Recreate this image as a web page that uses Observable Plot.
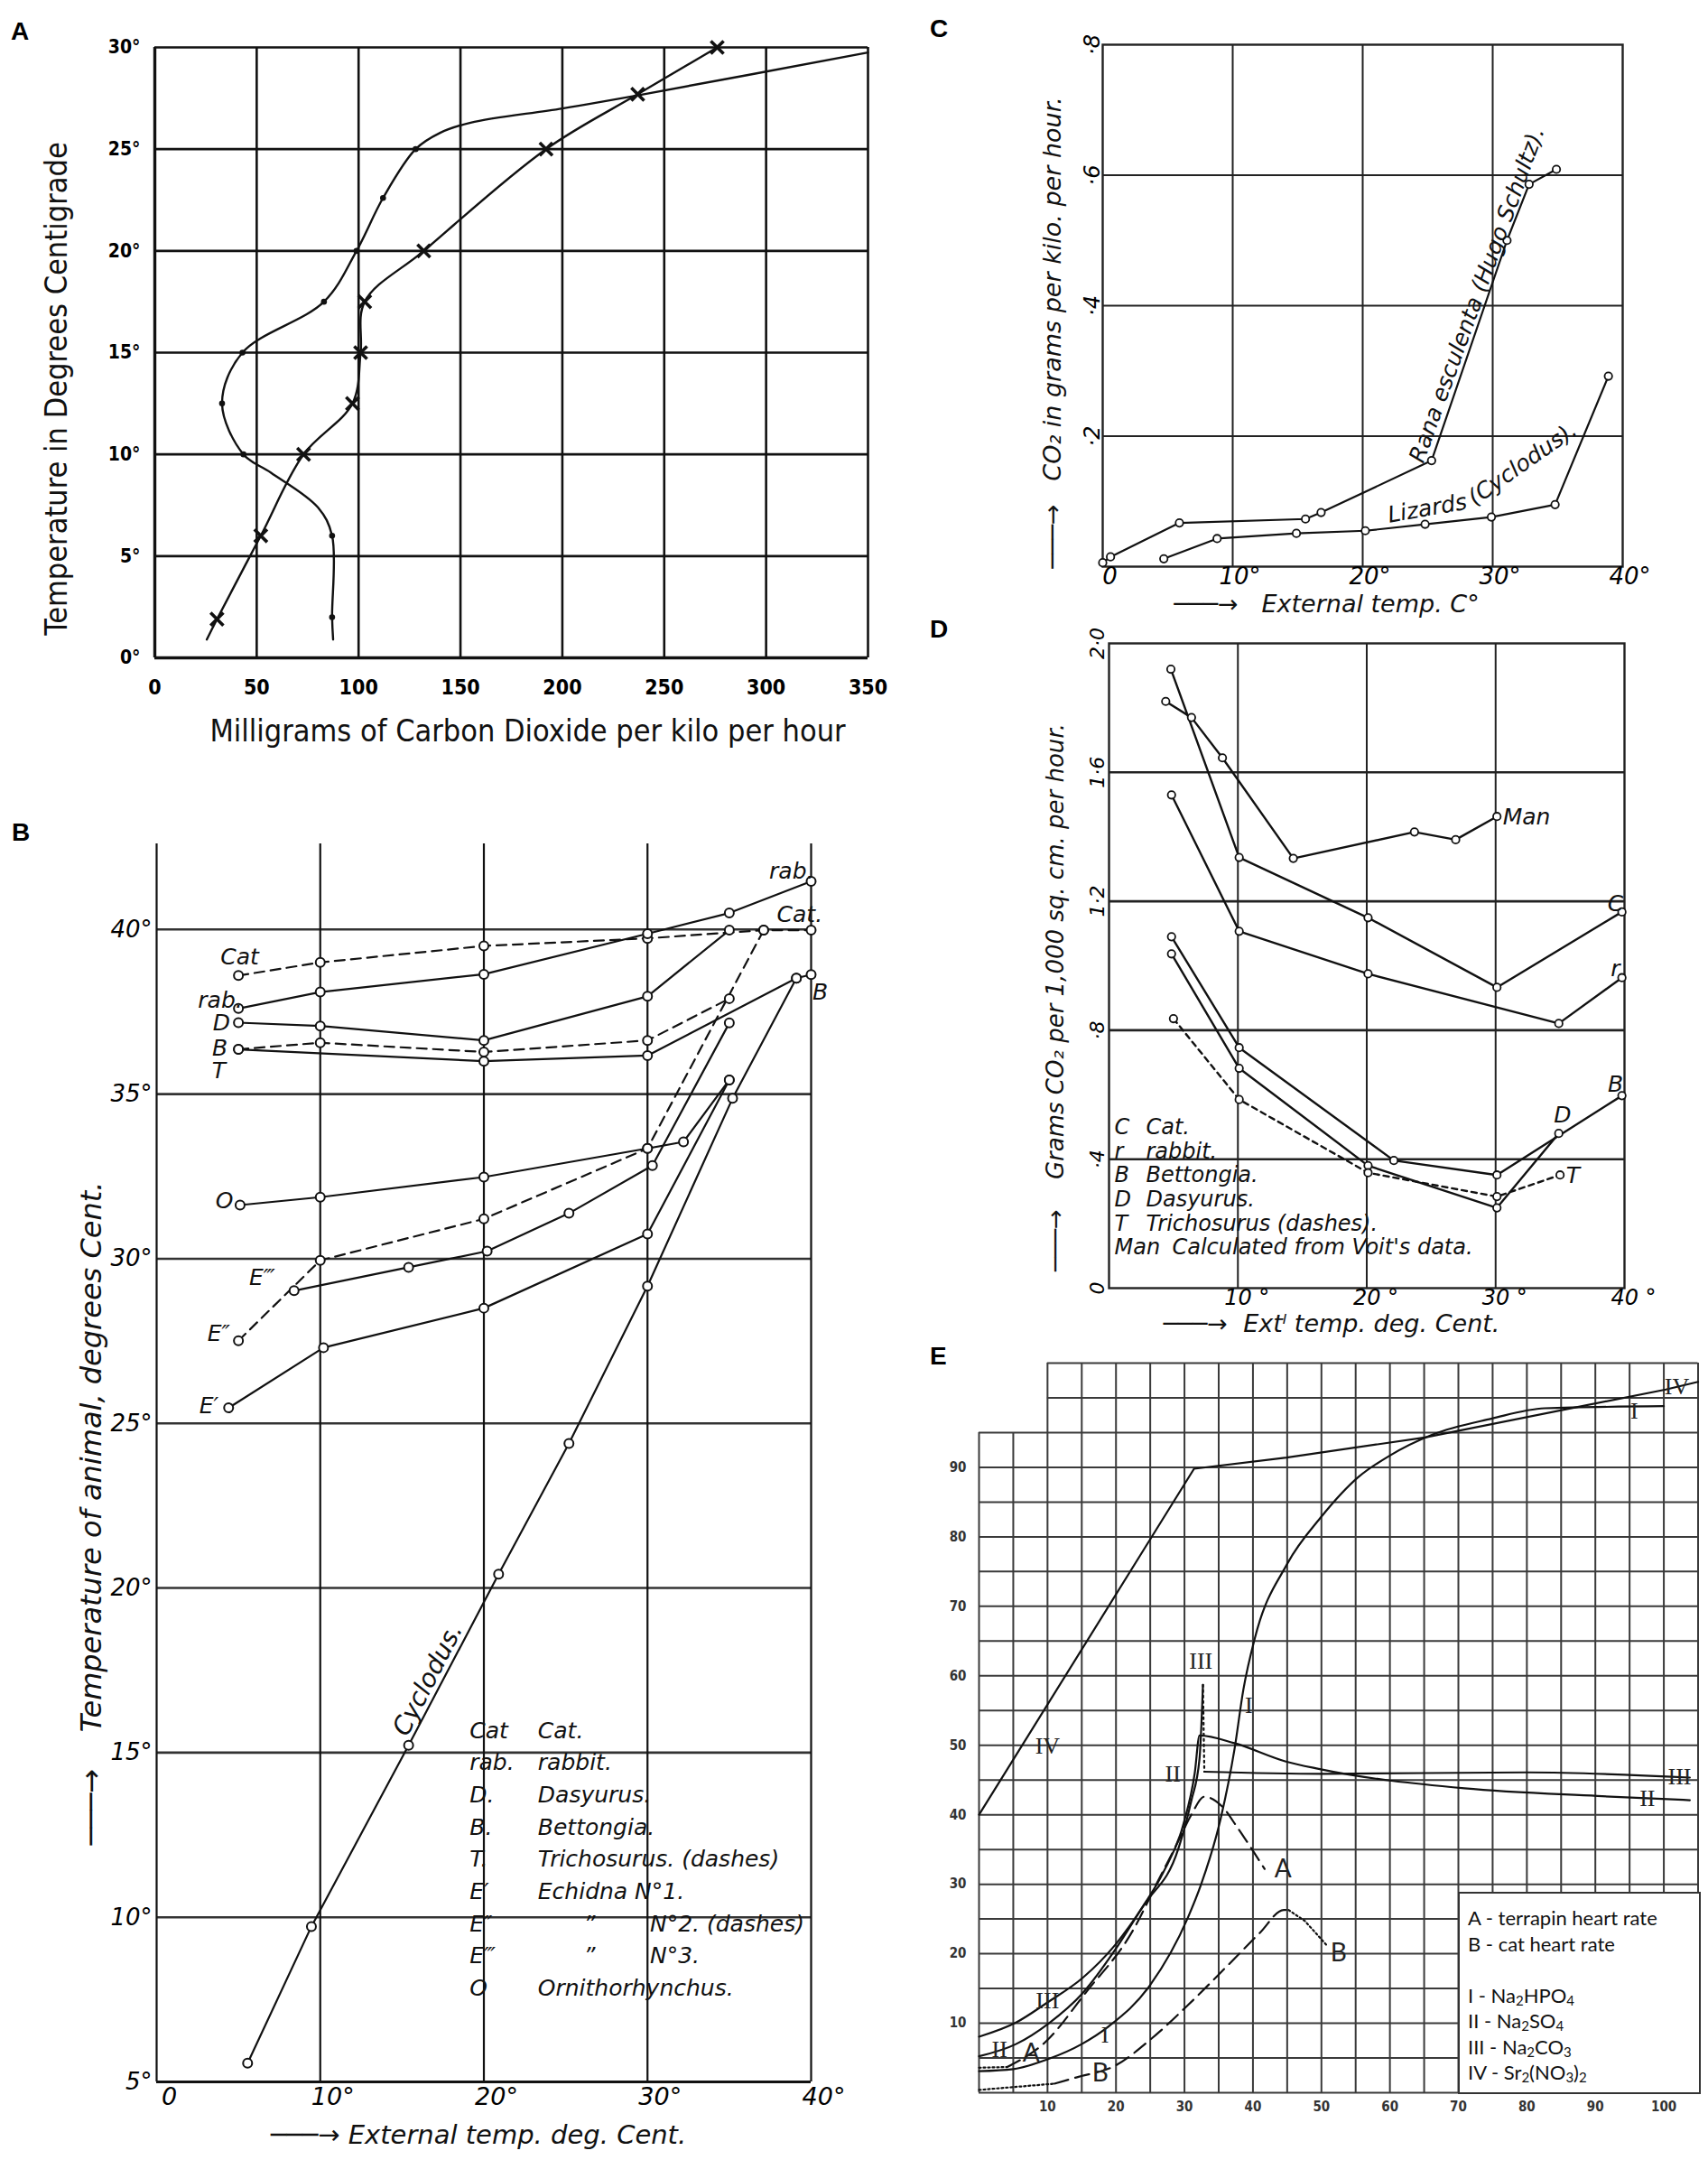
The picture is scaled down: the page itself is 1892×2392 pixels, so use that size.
<!DOCTYPE html>
<html><head><meta charset="utf-8">
<script src="https://cdn.jsdelivr.net/npm/d3@7"></script>
<script src="https://cdn.jsdelivr.net/npm/@observablehq/plot@0.6"></script>
<style>
html,body{margin:0;padding:0;background:#fff;}
#root{position:relative;width:1892px;height:2392px;overflow:hidden;background:#fff;}
.panel{position:absolute;}
.panel svg{display:block;}
.letter{position:absolute;font-family:"Liberation Sans",Arial,sans-serif;font-weight:bold;font-size:28px;line-height:1;color:#000;}
#legendE{position:absolute;background:#fff;border:2px solid #333;box-sizing:border-box;font-family:Lato,"Open Sans",sans-serif;font-size:22px;line-height:28.5px;padding:13px 0 0 9px;color:#111;}
#legendE sub{font-size:15px;vertical-align:-3px;line-height:0;}
</style></head><body><div id="root"></div>
<script>
// ---------------- DATA ----------------
// Panel A
const A_xTicks = [0, 50, 100, 150, 200, 250, 300, 350];
const A_yTicks = [0, 5, 10, 15, 20, 25, 30];
const A_mgDots = [87, 87, 43.5, 33, 43, 83, 99, 112, 128];
const A_tempDots = [2, 6, 10, 12.5, 15, 17.5, 20, 22.6, 25];
const A_mgDotsCurve = [87.5, 87, 87, 80, 57, 43.5, 33, 43, 83, 99, 112, 128, 140, 155, 200, 240, 350];
const A_tempDotsCurve = [0.9, 2, 6, 7.4, 9.1, 10, 12.5, 15, 17.5, 20, 22.6, 25, 25.8, 26.3, 27.0, 27.7, 29.75];
const A_mgCross = [30.5, 52, 73, 97, 101, 103, 132, 192, 237, 276];
const A_tempCross = [1.9, 6, 10, 12.5, 15, 17.5, 20, 25, 27.7, 30];
const A_mgCrossCurve = [25.5, 30.5, 52, 73, 97, 101, 103, 132, 192, 237, 276];
const A_tempCrossCurve = [0.9, 1.9, 6, 10, 12.5, 15, 17.5, 20, 25, 27.7, 30];
const A_xTitle = "Milligrams of Carbon Dioxide per kilo per hour";
const A_yTitle = "Temperature in Degrees Centigrade";

// Panel B
const B_xTicks = [0, 10, 20, 30, 40];
const B_yTicks = [5, 10, 15, 20, 25, 30, 35, 40];
const B_catX = [5, 10, 20, 30, 37.1, 40];
const B_catY = [38.6, 39.0, 39.5, 39.73, 39.98, 39.98];
const B_rabX = [5, 10, 20, 30, 35, 40];
const B_rabY = [37.6, 38.1, 38.64, 39.87, 40.5, 41.46];
const B_dasX = [5, 10, 20, 30, 35];
const B_dasY = [37.17, 37.07, 36.63, 37.97, 39.98];
const B_betX = [5, 20, 30, 39.1, 40];
const B_betY = [36.36, 36.0, 36.17, 38.52, 38.63];
const B_triX = [5, 10, 20, 30, 35];
const B_triY = [36.36, 36.56, 36.28, 36.63, 37.9];
const B_ornX = [5.1, 10, 20, 30, 32.2, 35];
const B_ornY = [31.63, 31.87, 32.48, 33.35, 33.55, 35.43];
const B_e1X = [4.4, 10.2, 20, 30, 35];
const B_e1Y = [25.47, 27.3, 28.5, 30.75, 35.43];
const B_e2X = [5, 10, 20, 30, 37.1];
const B_e2Y = [27.51, 29.95, 31.21, 33.35, 39.98];
const B_e3X = [8.4, 15.4, 20.2, 25.2, 30.3, 35];
const B_e3Y = [29.03, 29.74, 30.23, 31.38, 32.83, 37.16];
const B_cycX = [5.56, 9.46, 15.4, 20.9, 25.2, 30, 35.2, 39.1];
const B_cycY = [5.57, 9.72, 15.22, 20.42, 24.39, 29.17, 34.87, 38.52];
const B_labText = ["Cat", "rab.", "D", "B", "T", "O", "E‴", "E″", "E′", "rab.", "Cat.", "B"];
const B_labX = [5.08, 3.89, 3.97, 3.86, 3.8, 4.14, 6.45, 3.8, 3.2, 38.8, 39.3, 40.55];
const B_labY = [39.15, 37.83, 37.15, 36.4, 35.7, 31.74, 29.41, 27.71, 25.52, 41.76, 40.44, 38.1];
const B_legKeys = ["Cat", "rab.", "D.", "B.", "T.", "E′", "E″", "E‴", "O"];
const B_legNames = ["Cat.", "rabbit.", "Dasyurus.", "Bettongia.", "Trichosurus. (dashes)", "Echidna N°1.", "\u201D", "\u201D", "Ornithorhynchus."];
const B_legExtra = ["", "", "", "", "", "", "N°2. (dashes)", "N°3.", ""];
const B_xTitle = "───→ External temp. deg. Cent.";
const B_yTitle = "───→    Temperature of animal, degrees Cent.";

// Panel C
const C_xTicks = [0, 10, 20, 30, 40];
const C_yTicks = [0.2, 0.4, 0.6, 0.8];
const C_ranaX = [0, 0.6, 5.9, 15.6, 16.8, 25.3, 31.1, 32.8, 34.9];
const C_ranaY = [0.006, 0.015, 0.067, 0.073, 0.083, 0.1625, 0.5, 0.586, 0.609];
const C_lizX = [4.7, 8.8, 14.9, 20.2, 24.8, 29.9, 34.8, 38.9];
const C_lizY = [0.012, 0.043, 0.051, 0.055, 0.065, 0.076, 0.095, 0.292];
const C_labText = ["Rana esculenta (Hugo Schultz).", "Lizards", "(Cyclodus)."];
const C_labX = [28.8, 24.97, 32.3];
const C_labY = [0.4166, 0.089, 0.1575];
const C_labRot = [-70, -10, -35];
const C_xTitle = "───→   External temp. C°";
const C_yTitle = "───→   CO₂ in grams per kilo. per hour.";

// Panel D
const D_xTicks = [10, 20, 30, 40];
const D_yTicks = [0, 0.4, 0.8, 1.2, 1.6, 2.0];
const D_yTickText = ["0", "·4", "·8", "1·2", "1·6", "2·0"];
const D_manX = [4.4, 6.4, 8.8, 14.3, 23.7, 26.9, 30.1];
const D_manY = [1.82, 1.77, 1.645, 1.333, 1.415, 1.391, 1.463];
const D_catX = [4.8, 10.1, 20.1, 30.1, 39.8];
const D_catY = [1.92, 1.336, 1.149, 0.933, 1.167];
const D_rabX = [4.85, 10.1, 20.1, 34.9, 39.8];
const D_rabY = [1.53, 1.107, 0.975, 0.821, 0.963];
const D_betX = [4.85, 10.1, 22.1, 30.1, 39.8];
const D_betY = [1.09, 0.746, 0.396, 0.351, 0.597];
const D_dasX = [4.85, 10.1, 20.1, 30.1, 34.9];
const D_dasY = [1.037, 0.682, 0.38, 0.249, 0.48];
const D_triX = [5.0, 10.1, 20.1, 30.1, 35.0];
const D_triY = [0.836, 0.585, 0.358, 0.284, 0.351];
const D_labText = ["Man", "C", "r", "B", "D", "T"];
const D_labX = [32.4, 39.3, 39.3, 39.3, 35.2, 36.0];
const D_labY = [1.46, 1.192, 0.991, 0.633, 0.536, 0.35];
const D_legKeys = ["C", "r", "B", "D", "T", "Man"];
const D_legNames = ["Cat.", "rabbit.", "Bettongia.", "Dasyurus.", "Trichosurus (dashes).", "Calculated from Voit's data."];
const D_xTitle = "───→  Extˡ temp. deg. Cent.";
const D_yTitle = "───→    Grams CO₂ per 1,000 sq. cm. per hour.";

// Panel E
const E_xTicks = [10, 20, 30, 40, 50, 60, 70, 80, 90, 100];
const E_yTicks = [10, 20, 30, 40, 50, 60, 70, 80, 90];
const E_grid = d3.range(0, 106, 5);
const E_IVx = [0, 31.4, 44.9, 65.1, 100.3, 105];
const E_IVy = [40, 89.8, 91.4, 94.3, 101.2, 102.3];
const E_Ix = [0, 5, 10, 15, 19, 25, 30.5, 32.4, 35.3, 37.3, 38.6, 40.3, 45, 50, 55.4, 60, 66.2, 74.8, 82.6, 100];
const E_Iy = [3.1, 3.4, 4.8, 7.0, 9.6, 15.5, 25.2, 29.9, 39.5, 49.4, 58, 65.5, 76.1, 82.9, 88.6, 91.7, 94.7, 97.0, 98.5, 98.8];
const E_IIx = [0, 5.4, 10.2, 15.1, 19.9, 23.4, 26.9, 29.8, 31.5, 32.2, 37.3, 44.7, 49.6, 70.9, 90.3, 103.8];
const E_IIy = [5.24, 7.0, 10.0, 14.3, 20.6, 26.0, 31.7, 38.5, 46, 51.4, 50.3, 47.7, 46.6, 43.8, 42.7, 42.1];
const E_IIIx = [0, 5.4, 10, 15.1, 19.9, 24.3, 29.1, 31, 32.2, 32.7];
const E_IIIy = [8.06, 10.1, 13.0, 16.5, 21.3, 27.3, 35.1, 42, 48.1, 58.7];
const E_IIIdotX = [32.7, 32.9];
const E_IIIdotY = [58.7, 46.2];
const E_IIIflatX = [32.9, 50, 80.2, 103.8];
const E_IIIflatY = [46.2, 45.9, 46.1, 45.35];
const E_AdotX = [0, 4.1];
const E_AdotY = [3.6, 3.7];
const E_Ax = [4.1, 9.8, 15.5, 22.5, 26.3, 29, 31, 32.9, 35.5, 37.7, 41.7];
const E_Ay = [3.7, 7.4, 14.3, 23.4, 30.8, 36, 40, 42.6, 41.2, 38.2, 32.2];
const E_BdotX = [0, 11];
const E_BdotY = [0.4, 1.3];
const E_Bx = [11, 14.2, 19.9, 25.2, 30.5, 36.2, 41, 44.5, 45.2];
const E_By = [1.3, 2.2, 3.9, 7.8, 12.6, 18.2, 23, 26.3, 26.3];
const E_BendX = [45.2, 47.6, 50.7];
const E_BendY = [26.3, 24.7, 21.3];
const E_romText = ["IV", "III", "I", "II", "III", "II", "I", "IV", "I", "III", "II"];
const E_romX = [10, 32.4, 39.4, 28.3, 10, 3, 18.4, 101.9, 95.7, 102.3, 97.6];
const E_romY = [49.9, 62.1, 55.7, 45.9, 13.2, 6.2, 8.3, 101.6, 98.1, 45.4, 42.3];
const E_abText = ["A", "B", "A", "B"];
const E_abX = [44.4, 52.5, 7.6, 17.7];
const E_abY = [32.2, 20.1, 5.6, 2.8];
const E_legend = ["A - terrapin heart rate", "B - cat heart rate", "", "I - Na<sub>2</sub>HPO<sub>4</sub>", "II - Na<sub>2</sub>SO<sub>4</sub>", "III - Na<sub>2</sub>CO<sub>3</sub>", "IV - Sr<sub>2</sub>(NO<sub>3</sub>)<sub>2</sub>"];

// ---------------- HELPERS ----------------
const root = document.getElementById("root");
const pts = (xs, ys) => xs.map((x, i) => ({x, y: ys[i]}));
function place(svg, left, top, w, h) {
  const div = document.createElement("div");
  div.className = "panel";
  Object.assign(div.style, {left: left + "px", top: top + "px", width: w + "px", height: h + "px"});
  div.appendChild(svg);
  root.appendChild(div);
}
function letter(t, left, top) {
  const d = document.createElement("div");
  d.className = "letter"; d.textContent = t;
  d.style.left = left + "px"; d.style.top = top + "px";
  root.appendChild(d);
}
const INK = "#111";
const fontA = '"Liberation Sans Narrow","DejaVu Sans Condensed",sans-serif';
const fontHand = '"DejaVu Sans",sans-serif';
const fontE = '"DejaVu Sans Condensed","DejaVu Sans",sans-serif';
const fontRom = '"Liberation Serif","DejaVu Serif",serif';
const baseStyle = f => ({background: "transparent", fontFamily: f, maxWidth: "none", overflow: "visible"});
const xy = {x: "x", y: "y"};

// ---------------- PANEL A ----------------
const plotA = Plot.plot({
  width: 962, height: 860, marginLeft: 171, marginRight: 1, marginTop: 52, marginBottom: 132,
  style: baseStyle(fontA),
  x: {domain: [0, 350]}, y: {domain: [0, 30]},
  marks: [
    Plot.gridX(A_xTicks, {stroke: INK, strokeOpacity: 1, strokeWidth: 2.6}),
    Plot.gridY(A_yTicks, {stroke: INK, strokeOpacity: 1, strokeWidth: 2.6}),
    Plot.ruleX([0], {stroke: INK, strokeWidth: 3.4}),
    Plot.ruleY([0], {stroke: INK, strokeWidth: 3.4}),
    Plot.axisX(A_xTicks, {tickSize: 0, tickPadding: 24, fontSize: 23, fontWeight: "bold", label: null}),
    Plot.axisY(A_yTicks, {tickSize: 0, tickPadding: 16, fontSize: 21, fontWeight: "bold", tickFormat: d => d + "°", label: null}),
    Plot.line(pts(A_mgDotsCurve, A_tempDotsCurve), {...xy, curve: "catmull-rom", stroke: INK, strokeWidth: 2.4}),
    Plot.line(pts(A_mgCrossCurve, A_tempCrossCurve), {...xy, curve: "catmull-rom", stroke: INK, strokeWidth: 2.4}),
    Plot.dot(pts(A_mgDots, A_tempDots), {...xy, r: 3.3, fill: INK}),
    Plot.dot(pts(A_mgCross, A_tempCross), {...xy, symbol: "times", r: 6.5, stroke: INK, strokeWidth: 3.6}),
    Plot.text([A_xTitle], {frameAnchor: "bottom", dx: 18, dy: 82, text: d => d, fontSize: 34, textAnchor: "middle", lineAnchor: "middle", fill: INK}),
    Plot.text([A_yTitle], {frameAnchor: "left", dx: -108, dy: 40, rotate: -90, text: d => d, fontSize: 34, textAnchor: "middle", lineAnchor: "middle", fill: INK})
  ]
});
place(plotA, 0, 0, 962, 860);

// ---------------- PANEL B ----------------
const bLine = (xs, ys, dashed) => Plot.line(pts(xs, ys), {...xy, stroke: INK, strokeWidth: 2.2, strokeDasharray: dashed ? "11,7" : null});
const bDot = (xs, ys) => Plot.dot(pts(xs, ys), {...xy, r: 5, fill: "white", stroke: INK, strokeWidth: 2});
const B_series = [
  [B_catX, B_catY, true], [B_rabX, B_rabY, false], [B_dasX, B_dasY, false], [B_betX, B_betY, false],
  [B_triX, B_triY, true], [B_ornX, B_ornY, false], [B_e1X, B_e1Y, false], [B_e2X, B_e2Y, true],
  [B_e3X, B_e3Y, false], [B_cycX, B_cycY, false]
];
const legRows = B_legKeys.map((k, i) => ({i, k, n: B_legNames[i], e: B_legExtra[i]}));
const B_legY = i => 15.66 - i * 0.978;
const plotB = Plot.plot({
  width: 960, height: 1492, marginLeft: 173, marginRight: 62, marginTop: 34, marginBottom: 87,
  style: baseStyle(fontHand),
  x: {domain: [0, 40]}, y: {domain: [5, 42.6]},
  marks: [
    Plot.ruleY(B_yTicks.filter(d => d > 5), {x1: 0, x2: 40, stroke: "#333", strokeWidth: 2.6}),
    Plot.ruleX(B_xTicks, {stroke: INK, strokeWidth: 2.2}),
    Plot.ruleY([5], {x1: 0, x2: 40, stroke: INK, strokeWidth: 3}),
    Plot.axisX(B_xTicks, {tickSize: 0, tickPadding: 6, dx: 14, fontSize: 27, fontStyle: "italic", tickFormat: d => d === 0 ? "0" : d + "°", label: null}),
    Plot.axisY(B_yTicks, {tickSize: 0, tickPadding: 5, fontSize: 26, fontStyle: "italic", tickFormat: d => d + "°", label: null}),
    ...B_series.map(s => bLine(...s)),
    ...B_series.map(s => bDot(s[0], s[1])),
    Plot.text(B_labText.map((t, i) => ({t, x: B_labX[i], y: B_labY[i]})), {...xy, text: "t", fontSize: 25, fontStyle: "italic", fill: INK}),
    Plot.text([{t: "Cyclodus.", x: 16.58, y: 17.22}], {...xy, text: "t", rotate: -62.8, fontSize: 28, fontStyle: "italic", fill: INK}),
    Plot.text(legRows, {x: 19.13, y: d => B_legY(d.i), text: "k", textAnchor: "start", fontSize: 25, fontStyle: "italic", fill: INK}),
    Plot.text(legRows, {x: d => d.e ? 26.1 : 23.3, y: d => B_legY(d.i), text: "n", textAnchor: "start", fontSize: 25, fontStyle: "italic", fill: INK}),
    Plot.text(legRows.filter(d => d.e), {x: 30.15, y: d => B_legY(d.i), text: "e", textAnchor: "start", fontSize: 25, fontStyle: "italic", fill: INK}),
    Plot.text([B_xTitle], {frameAnchor: "bottom", dx: -6, dy: 59, text: d => d, fontSize: 29, fontStyle: "italic", textAnchor: "middle", lineAnchor: "middle", fill: INK}),
    Plot.text([B_yTitle], {frameAnchor: "left", dx: -72, dy: 56, rotate: -90, text: d => d, fontSize: 32, fontStyle: "italic", textAnchor: "middle", lineAnchor: "middle", fill: INK})
  ]
});
place(plotB, 0, 900, 960, 1492);

// ---------------- PANEL C ----------------
const plotC = Plot.plot({
  width: 917, height: 700, marginLeft: 246, marginRight: 95, marginTop: 49, marginBottom: 73,
  style: baseStyle(fontHand),
  x: {domain: [0, 40]}, y: {domain: [0, 0.8]},
  marks: [
    Plot.gridX([10, 20, 30], {stroke: "#222", strokeOpacity: 1, strokeWidth: 2}),
    Plot.gridY([0.2, 0.4, 0.6], {stroke: "#222", strokeOpacity: 1, strokeWidth: 2.2}),
    Plot.frame({stroke: "#222", strokeWidth: 2.4}),
    Plot.axisX(C_xTicks, {tickSize: 0, tickPadding: 1, dx: 8, fontSize: 26, fontStyle: "italic", tickFormat: d => d === 0 ? "0" : d + "°", label: null}),
    Plot.axisY(C_yTicks, {tickSize: 0, tickPadding: 4, tickRotate: -90, fontSize: 24, fontStyle: "italic", tickFormat: d => "·" + Math.round(d * 10), label: null}),
    Plot.line(pts(C_ranaX, C_ranaY), {...xy, stroke: INK, strokeWidth: 2.2}),
    Plot.line(pts(C_lizX, C_lizY), {...xy, stroke: INK, strokeWidth: 2.2}),
    Plot.dot(pts(C_ranaX, C_ranaY), {...xy, r: 4.2, fill: "white", stroke: INK, strokeWidth: 1.8}),
    Plot.dot(pts(C_lizX, C_lizY), {...xy, r: 4.2, fill: "white", stroke: INK, strokeWidth: 1.8}),
    Plot.text(C_labText.map((t, i) => ({t, x: C_labX[i], y: C_labY[i], r: C_labRot[i]})), {...xy, text: "t", rotate: "r", fontSize: 25, fontStyle: "italic", fill: INK}),
    Plot.text([C_xTitle], {frameAnchor: "bottom", dx: -40, dy: 42, text: d => d, fontSize: 27, fontStyle: "italic", textAnchor: "middle", lineAnchor: "middle", fill: INK}),
    Plot.text([C_yTitle], {frameAnchor: "left", dx: -55, dy: 30, rotate: -90, text: d => d, fontSize: 27, fontStyle: "italic", textAnchor: "middle", lineAnchor: "middle", fill: INK})
  ]
});
place(plotC, 975, 0, 917, 700);

// ---------------- PANEL D ----------------
const dSeries = [
  [D_manX, D_manY, false], [D_catX, D_catY, false], [D_rabX, D_rabY, false],
  [D_betX, D_betY, false], [D_dasX, D_dasY, false], [D_triX, D_triY, true]
];
const dLeg = D_legKeys.map((k, i) => ({i, k, n: D_legNames[i]}));
const plotD = Plot.plot({
  width: 917, height: 800, marginLeft: 253, marginRight: 93, marginTop: 22, marginBottom: 64,
  style: baseStyle(fontHand),
  x: {domain: [0, 40]}, y: {domain: [0, 2]},
  marks: [
    Plot.gridX([10, 20, 30], {stroke: "#222", strokeOpacity: 1, strokeWidth: 2}),
    Plot.gridY([0.4, 0.8, 1.2, 1.6], {stroke: "#222", strokeOpacity: 1, strokeWidth: 2.6}),
    Plot.frame({stroke: "#222", strokeWidth: 2.4}),
    Plot.axisX(D_xTicks, {tickSize: 0, tickPadding: 1, dx: 10, fontSize: 24, fontStyle: "italic", tickFormat: d => d + " °", label: null}),
    Plot.axisY(D_yTicks, {tickSize: 0, tickPadding: 6, tickRotate: -90, fontSize: 22, fontStyle: "italic", tickFormat: (d, i) => D_yTickText[i], label: null}),
    ...dSeries.map(s => Plot.line(pts(s[0], s[1]), {...xy, stroke: INK, strokeWidth: 2.4, strokeDasharray: s[2] ? "6,5" : null})),
    ...dSeries.map(s => Plot.dot(pts(s[0], s[1]), {...xy, r: 4.2, fill: "white", stroke: INK, strokeWidth: 1.8})),
    Plot.text(D_labText.map((t, i) => ({t, x: D_labX[i], y: D_labY[i]})), {...xy, text: "t", fontSize: 25, fontStyle: "italic", fill: INK}),
    Plot.text(dLeg, {x: 0.42, y: d => 0.4986 - d.i * 0.0745, text: "k", textAnchor: "start", fontSize: 24, fontStyle: "italic", fill: INK}),
    Plot.text(dLeg, {x: d => d.k === "Man" ? 4.9 : 2.87, y: d => 0.4986 - d.i * 0.0745, text: "n", textAnchor: "start", fontSize: 24, fontStyle: "italic", fill: INK}),
    Plot.text([D_xTitle], {frameAnchor: "bottom", dx: -39, dy: 40, text: d => d, fontSize: 27, fontStyle: "italic", textAnchor: "middle", lineAnchor: "middle", fill: INK}),
    Plot.text([D_yTitle], {frameAnchor: "left", dx: -59, dy: 35, rotate: -90, text: d => d, fontSize: 26, fontStyle: "italic", textAnchor: "middle", lineAnchor: "middle", fill: INK})
  ]
});
place(plotD, 975, 690, 917, 800);

// ---------------- PANEL E ----------------
const eCurve = (xs, ys, dash, curve) => Plot.line(pts(xs, ys), {...xy, stroke: INK, strokeWidth: 2.2, strokeDasharray: dash, curve: curve || "monotone-x"});
const plotE = Plot.plot({
  width: 917, height: 912, marginLeft: 109, marginRight: 11.5, marginTop: 29, marginBottom: 75,
  style: baseStyle(fontE),
  x: {domain: [0, 105]}, y: {domain: [0, 105]},
  marks: [
    Plot.ruleX(E_grid, {x: d => d, y1: 0, y2: d => d < 10 ? 95 : 105, stroke: "#3a3a3a", strokeWidth: 2}),
    Plot.ruleY(E_grid, {y: d => d, x1: d => d > 95 ? 10 : 0, x2: 105, stroke: "#3a3a3a", strokeWidth: 2}),
    Plot.axisX(E_xTicks, {tickSize: 0, tickPadding: 10, fontSize: 15, fontWeight: "bold", label: null, fill: "#333"}),
    Plot.axisY(E_yTicks, {tickSize: 0, tickPadding: 14, fontSize: 15, fontWeight: "bold", label: null, fill: "#333"}),
    eCurve(E_IVx, E_IVy, null, "linear"),
    eCurve(E_Ix, E_Iy, null),
    eCurve(E_IIx, E_IIy, null),
    eCurve(E_IIIx, E_IIIy, null),
    eCurve(E_IIIdotX, E_IIIdotY, "2,4", "linear"),
    eCurve(E_IIIflatX, E_IIIflatY, null),
    eCurve(E_AdotX, E_AdotY, "2,3", "linear"),
    eCurve(E_Ax, E_Ay, "16,8"),
    eCurve(E_BdotX, E_BdotY, "2,3", "linear"),
    eCurve(E_Bx, E_By, "16,8"),
    eCurve(E_BendX, E_BendY, "2,3", "linear"),
    Plot.text(E_romText.map((t, i) => ({t, x: E_romX[i], y: E_romY[i]})), {...xy, text: "t", fontFamily: fontRom, fontSize: 26, fill: "#222"}),
    Plot.text(E_abText.map((t, i) => ({t, x: E_abX[i], y: E_abY[i]})), {...xy, text: "t", fontFamily: 'Lato,"Open Sans",sans-serif', fontSize: 28, fill: "#222"})
  ]
});
place(plotE, 975, 1480, 917, 912);

const leg = document.createElement("div");
leg.id = "legendE";
Object.assign(leg.style, {left: "1615px", top: "2095px", width: "269px", height: "224px"});
leg.innerHTML = E_legend.map(s => `<div>${s || "&nbsp;"}</div>`).join("");
root.appendChild(leg);

// ---------------- PANEL LETTERS ----------------
letter("A", 12, 21);
letter("B", 13, 908);
letter("C", 1030, 18);
letter("D", 1030, 683);
letter("E", 1030, 1488);
</script></body></html>
